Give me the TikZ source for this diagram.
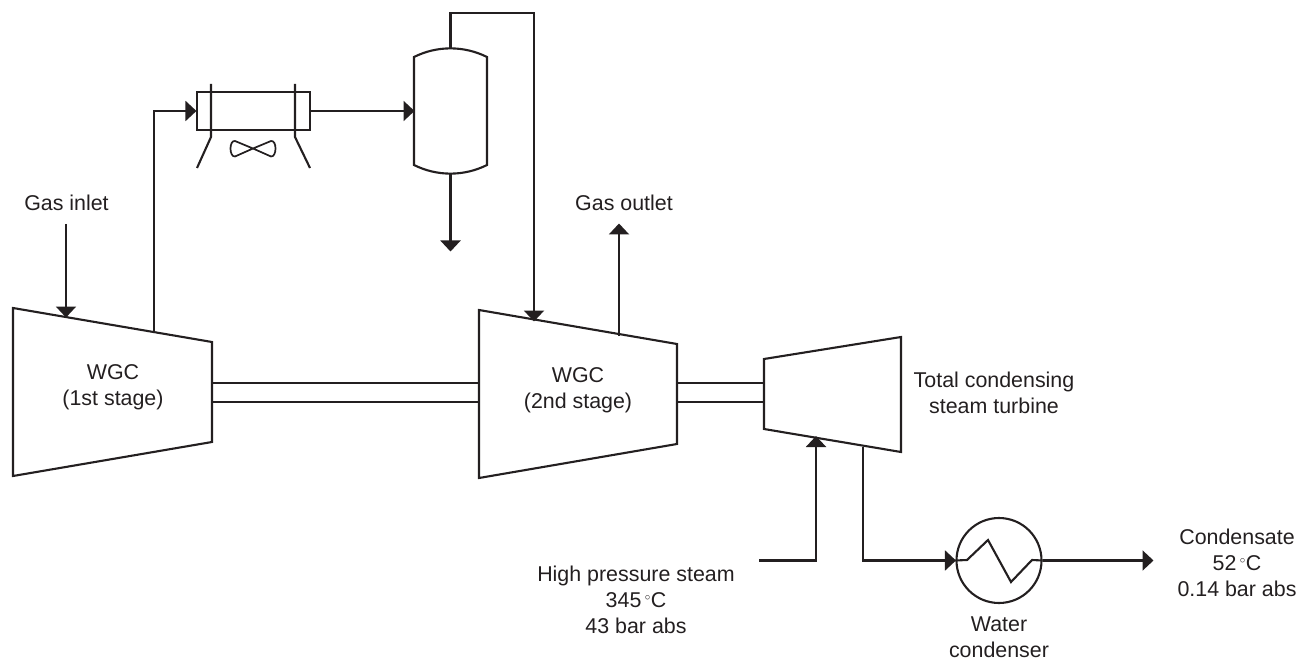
\documentclass[tikz,border=0pt]{standalone}
\usepackage{fontspec}
\setmainfont{Liberation Sans}
\usetikzlibrary{arrows.meta}
\definecolor{ink}{HTML}{231F20}
\tikzset{
  pipe/.style={draw=ink,line width=2.1pt,line join=miter},
  flow/.style={pipe,-{Triangle[length=11pt,width=20pt]},shorten >=-0.5pt},
  unit/.style={draw=ink,line width=2.1pt,line join=miter,fill=none},
  lbl/.style={text=ink,font=\fontsize{21.4}{26}\selectfont,align=center,inner sep=0pt},
}
\begin{document}
\begin{tikzpicture}[x=1pt,y=-1pt]
\useasboundingbox (0,0) rectangle (1298,660);
% WGC 1st stage
\coordinate (aTL) at (13,308); \coordinate (aTR) at (212,342);
\coordinate (aBR) at (212,442); \coordinate (aBL) at (13,476);
\draw[unit] (aTL)--(aTR)--(aBR)--(aBL)--cycle;
% WGC 2nd stage
\coordinate (bTL) at (479,310); \coordinate (bTR) at (677,344);
\coordinate (bBR) at (677,444); \coordinate (bBL) at (479,478);
\draw[unit] (bTL)--(bTR)--(bBR)--(bBL)--cycle;
% turbine
\coordinate (cTL) at (764,359); \coordinate (cTR) at (901,337);
\coordinate (cBR) at (901,452); \coordinate (cBL) at (764,429);
\draw[unit] (cTL)--(cTR)--(cBR)--(cBL)--cycle;
% shafts
\coordinate (s1a) at (212,383); \coordinate (s1b) at (479,383);
\coordinate (s2a) at (212,402); \coordinate (s2b) at (479,402);
\coordinate (s3a) at (677,383); \coordinate (s3b) at (764,383);
\coordinate (s4a) at (677,402); \coordinate (s4b) at (764,402);
\draw[pipe] (s1a)--(s1b) (s2a)--(s2b) (s3a)--(s3b) (s4a)--(s4b);
% cooler
\node[unit,minimum width=113pt,minimum height=38pt,inner sep=0pt] (cooler) at (253.5,111) {};
\coordinate (b1t) at (211,84); \coordinate (b1m) at (211,137); \coordinate (b1e) at (197,168);
\coordinate (b2t) at (295,84); \coordinate (b2m) at (295,137); \coordinate (b2e) at (310,168);
\draw[pipe] (b1t)--(b1m)--(b1e) (b2t)--(b2m)--(b2e);
% fan
\coordinate (fan) at (253,148.5);
\draw[ink,line width=1.7pt] (fan) -- (235,141) .. controls (229,140) and (229,157) .. (235,156.5) -- (fan)
  -- (271,141) .. controls (277,140) and (277,157) .. (271,156.5) -- cycle;
% drum
\coordinate (dTL) at (414,57); \coordinate (dT) at (450.5,48); \coordinate (dTR) at (487,57);
\coordinate (dBR) at (487,165); \coordinate (dB) at (450.5,174); \coordinate (dBL) at (414,165);
\coordinate (dW) at (414,111);
\draw[unit] (dTL) .. controls (437,45.5) and (464,45.5) .. (dTR) -- (dBR)
  .. controls (464,176.5) and (437,176.5) .. (dBL) -- cycle;
% condenser
\node[unit,circle,minimum size=85pt,inner sep=0pt] (cond) at (999,560.5) {};
\coordinate (z1) at (967,560); \coordinate (z2) at (988,540);
\coordinate (z3) at (1011,582); \coordinate (z4) at (1032,560);
\draw[pipe] (cond.west)--(z1)--(z2)--(z3)--(z4)--(cond.east);
% connectors
\coordinate (inS) at (66,224); \coordinate (inE) at (66,317);
\draw[flow] (inS)--(inE);
\coordinate (o1) at (154,333);
\draw[flow] (o1)|-(cooler.west);
\draw[flow] (cooler.east)--(dW);
\coordinate (t2) at (534,321);
\coordinate (top) at (450.5,13);
\draw[flow] (dT)--(top)-|(t2);
\coordinate (dOut) at (450.5,251);
\draw[flow] (dB)--(dOut);
\coordinate (g1) at (619,336); \coordinate (g2) at (619,224);
\draw[flow] (g1)--(g2);
\coordinate (h1) at (759,560.5); \coordinate (h2) at (816,436.5);
\draw[flow] (h1)-|(h2);
\coordinate (e1) at (863,447);
\draw[flow] (e1)|-(cond.west);
\coordinate (cEnd) at (1153,560.5);
\draw[flow] (cond.east)--(cEnd);
% labels
\node[lbl] (tInlet) at (66.5,203) {Gas inlet};
\node[lbl] (tOutlet) at (624,203) {Gas outlet};
\node[lbl] (tW1) at (113,387.5) {WGC\\(1st stage)};
\node[lbl] (tW2) at (578,390.5) {WGC\\(2nd stage)};
\node[lbl] (tTurb) at (994,393) {Total condensing\\steam turbine};
\node[lbl] (tHP) at (636,600) {High pressure steam\\345$\,^{\scriptscriptstyle\circ}$C\\43 bar abs};
\node[lbl] (tCond) at (1237,563) {Condensate\\52$\,^{\scriptscriptstyle\circ}$C\\0.14 bar abs};
\node[lbl] (tWater) at (999,637.5) {Water\\condenser};
\end{tikzpicture}
\end{document}
